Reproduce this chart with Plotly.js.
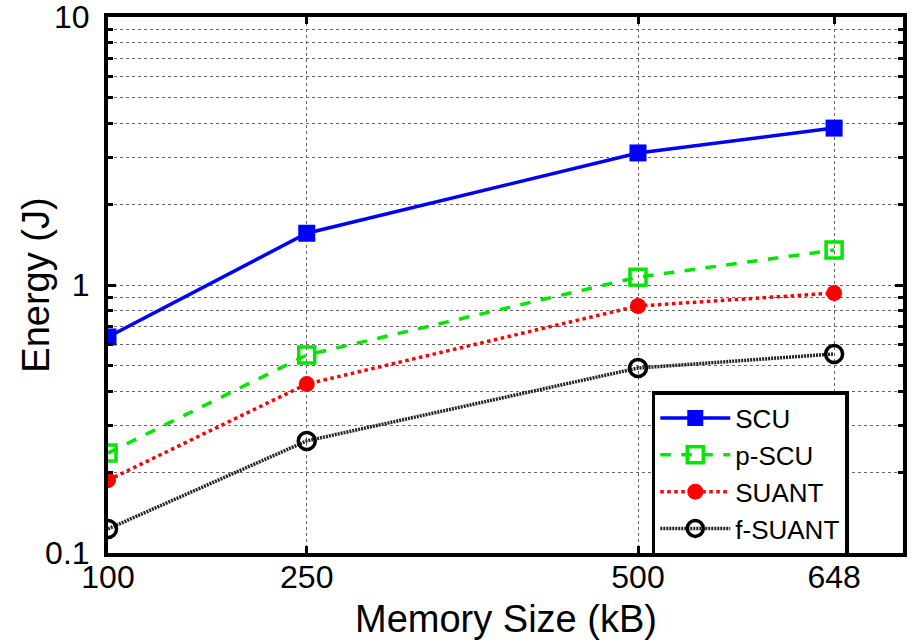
<!DOCTYPE html>
<html>
<head>
<meta charset="utf-8">
<script src="https://cdn.plot.ly/plotly-3.0.1.min.js"></script>
<style>html,body{margin:0;padding:0;background:#fff;}#chart{width:917px;height:644px;}</style>
</head>
<body>
<div id="chart"></div>
<script>
const memorySizes = [100, 250, 500, 648];
const xTickLabels = ['100', '250', '500', '648'];
const scu = [0.64, 1.56, 3.11, 3.85];
const pScu = [0.236, 0.548, 1.07, 1.35];
const suant = [0.187, 0.427, 0.835, 0.933];
const fSuant = [0.123, 0.262, 0.49, 0.553];
const yTickVals = [0.1, 1, 10];
const yTickLabels = ['0.1', '1', '10'];

const traces = [
  {x: memorySizes, y: scu, name: 'SCU', mode: 'lines+markers',
   line: {color: '#0000ff', width: 3.5},
   marker: {symbol: 'square', size: 17, color: '#0000ff'}},
  {x: memorySizes, y: pScu, name: 'p-SCU', mode: 'lines+markers',
   line: {color: '#00e600', width: 3.5, dash: 'dash'},
   marker: {symbol: 'square-open', size: 16, color: '#00e600', line: {width: 3.5}}},
  {x: memorySizes, y: suant, name: 'SUANT', mode: 'lines+markers',
   line: {color: '#ff0000', width: 3.5, dash: 'dot'},
   marker: {symbol: 'circle', size: 16, color: '#ff0000'}},
  {x: memorySizes, y: fSuant, name: 'f-SUANT', mode: 'lines+markers',
   line: {color: '#222222', width: 3.5, dash: '2px,1px'},
   marker: {symbol: 'circle-open', size: 17, color: '#000000', line: {width: 3.5}}}
];

const font = 'Liberation Sans, Arial, Helvetica, sans-serif';
const layout = {
  width: 917, height: 644,
  margin: {l: 108, r: 14, t: 17, b: 91},
  paper_bgcolor: '#fff', plot_bgcolor: '#fff',
  font: {family: font, color: '#000', size: 32},
  showlegend: true,
  legend: {
    x: 0.684, y: 0.302, xanchor: 'left', yanchor: 'top',
    bgcolor: '#fff', bordercolor: '#000', borderwidth: 3.5,
    font: {family: font, size: 26, color: '#000'},
    tracegroupgap: 0, itemwidth: 70
  },
  annotations: [
    {text: 'Energy (J)', xref: 'paper', yref: 'paper', x: -0.091, y: 0.5,
     xanchor: 'center', yanchor: 'middle', textangle: -90, showarrow: false,
     font: {family: font, size: 38, color: '#000'}},
    {text: 'Memory Size (kB)', xref: 'paper', yref: 'paper', x: 0.5, y: -0.123,
     xanchor: 'center', yanchor: 'middle', showarrow: false,
     font: {family: font, size: 38, color: '#000'}}
  ],
  xaxis: {
    type: 'linear', range: [100, 700],
    tickmode: 'array', tickvals: memorySizes, ticktext: xTickLabels,
    ticks: 'inside', ticklen: 7, tickwidth: 3, tickcolor: '#000',
    showline: true, linecolor: '#000', linewidth: 4, mirror: 'ticks',
    showgrid: true, gridcolor: '#666', griddash: 'dot', gridwidth: 1,
    zeroline: false, ticklabelstandoff: -7, ticklabeloverflow: 'allow',
    tickfont: {size: 32}
  },
  yaxis: {
    type: 'log', range: [-1, 1],
    tickmode: 'array', tickvals: yTickVals, ticktext: yTickLabels,
    ticks: 'inside', ticklen: 8, tickwidth: 3, tickcolor: '#000',
    showline: true, linecolor: '#000', linewidth: 4, mirror: 'ticks',
    showgrid: true, gridcolor: '#666', griddash: 'dot', gridwidth: 1,
    zeroline: false, ticklabelstandoff: 8, ticklabeloverflow: 'allow',
    tickfont: {size: 32},
    minor: {dtick: 'D1', showgrid: true, gridcolor: '#666', griddash: 'dot', gridwidth: 1,
            ticks: 'inside', ticklen: 5, tickwidth: 3, tickcolor: '#000'}
  }
};

Plotly.newPlot('chart', traces, layout, {displayModeBar: false, staticPlot: true});
</script>
</body>
</html>
